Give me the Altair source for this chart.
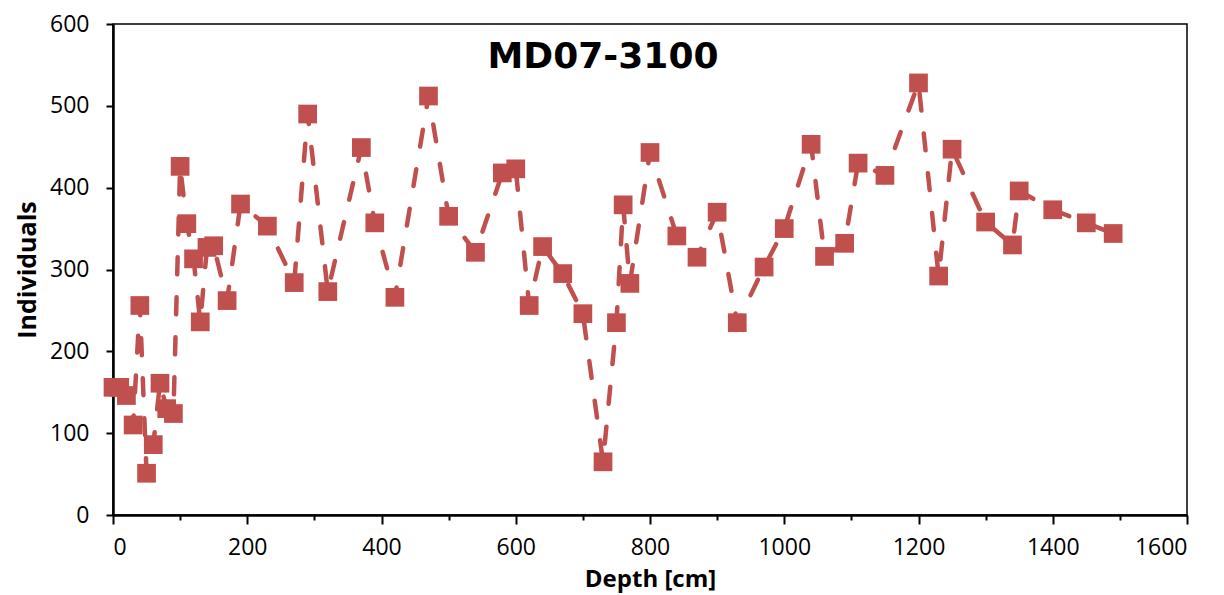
import altair as alt
import pandas as pd

depth = [0, 10, 20, 30, 40, 50, 60, 70, 80, 90,
         100, 110, 120, 130, 140, 150, 170, 190,
         230, 270, 290, 320, 370, 390, 420, 470,
         500, 540, 580, 600, 620, 640, 670, 700,
         730, 750, 760, 770, 800, 840, 870, 900,
         930, 970, 1000, 1040, 1060, 1090, 1110, 1150,
         1200, 1230, 1250, 1300, 1340, 1350, 1400, 1450, 1490]
individuals = [156, 156, 146, 110, 256, 51, 86, 161, 130, 124,
               426, 356, 313, 236, 327, 329, 262, 380,
               353, 284, 490, 273, 449, 357, 266, 512,
               365, 321, 418, 423, 256, 328, 295, 246,
               65, 235, 379, 283, 443, 341, 315, 370,
               235, 303, 350, 453, 316, 332, 430, 415,
               528, 292, 447, 358, 330, 396, 373, 357, 344]
x_major_ticks = [0, 200, 400, 600, 800, 1000, 1200, 1400, 1600]
x_minor_ticks = [100, 300, 500, 700, 900, 1100, 1300, 1500]
y_ticks = [0, 100, 200, 300, 400, 500, 600]
chart_title = "MD07-3100"

df = pd.DataFrame({"depth": depth, "individuals": individuals})
color = "#C0504D"
FONT = "Open Sans"

xscale = alt.Scale(domain=[0, 1600], nice=False)
yscale = alt.Scale(domain=[0, 600], nice=False)

line = alt.Chart(df).mark_line(
    color=color, strokeWidth=4.5, strokeDash=[17, 23], strokeCap="round"
).encode(
    x=alt.X("depth:Q", scale=xscale,
            axis=alt.Axis(values=x_major_ticks, orient="bottom", title="Depth [cm]",
                          format="d", grid=False, tickSize=9, tickWidth=2,
                          tickColor="black", domainColor="black", domainWidth=2.5,
                          labelFont=FONT, labelFontSize=23, labelColor="black",
                          labelPadding=12, titleFont=FONT, titleFontSize=24,
                          titleFontWeight="bold", titleColor="black", titlePadding=8)),
    y=alt.Y("individuals:Q", scale=yscale,
            axis=alt.Axis(values=y_ticks, title="Individuals", grid=False, format="d",
                          tickSize=7, tickWidth=2, tickColor="black",
                          domainColor="black", domainWidth=2.5,
                          labelFont=FONT, labelFontSize=23, labelColor="black",
                          labelPadding=17, titleFont=FONT, titleFontSize=25,
                          titleFontWeight="bold", titleColor="black", titlePadding=9)),
)

points = alt.Chart(df).mark_point(
    shape="square", filled=True, size=350, color=color, opacity=1
).encode(
    x=alt.X("depth:Q", scale=xscale,
            axis=alt.Axis(values=x_minor_ticks, orient="bottom", labels=False,
                          domain=False, grid=False, tickSize=5, tickWidth=2,
                          tickColor="black", title=None)),
    y=alt.Y("individuals:Q", scale=yscale),
)

title_df = pd.DataFrame({"t": [chart_title]})
title = alt.Chart(title_df).mark_text(
    font="DejaVu Sans", fontSize=36, fontWeight="bold", color="black",
    align="center", baseline="alphabetic"
).encode(text="t:N", x=alt.value(490), y=alt.value(44))

chart = alt.layer(line, points, title).resolve_axis(x="independent").properties(
    width=1074, height=491,
    autosize=alt.AutoSizeParams(type="none"),
    padding={"left": 105, "top": 16, "right": 25, "bottom": 80},
).configure_view(stroke="black", strokeWidth=1.5)

chart.save("out.html", embed_options={"renderer": "svg", "actions": False})
